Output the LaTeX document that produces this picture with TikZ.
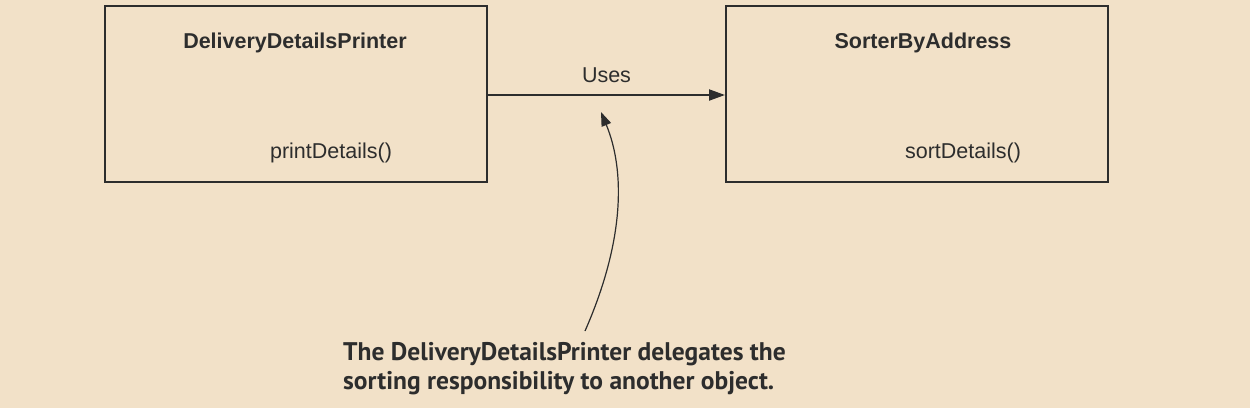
\documentclass[tikz,border=0pt]{standalone}
\usepackage{fontspec}
\setmainfont{Liberation Sans}
\newfontfamily\capfont{PT Sans}
\usetikzlibrary{arrows.meta}
\definecolor{bg}{RGB}{242,225,200}
\definecolor{ln}{RGB}{45,45,45}
\tikzset{
  classbox/.style={draw=ln, line width=2pt, minimum width=382pt, minimum height=176pt, inner sep=0pt},
  title/.style={font=\fontsize{21.5}{24}\selectfont\bfseries, text=ln},
  method/.style={font=\fontsize{21.5}{24}\selectfont, text=ln},
  conn/.style={draw=ln, line width=2pt, -{Triangle[length=16pt,width=11pt]}},
  note/.style={draw=ln, line width=1.2pt, -{Triangle[length=14pt,width=10pt]}},
}
\begin{document}
\begin{tikzpicture}[x=1pt,y=-1pt]
\fill[bg] (0,0) rectangle (1250,408);
\useasboundingbox (0,0) rectangle (1250,408);
\node[classbox] (ddp) at (296,94) {};
\node[classbox] (sba) at (917,94) {};
\node[title] (ddpt) at (295,43) {DeliveryDetailsPrinter};
\node[method] (ddpm) at (331,153) {printDetails()};
\node[title] (sbat) at (923,43) {SorterByAddress};
\node[method] (sbam) at (963,153) {sortDetails()};
\draw[conn] (ddp.east |- 0,95) -- (sba.west |- 0,95) node[midway, above=8pt, method] (uses) {Uses};
\coordinate (tip) at (601,112);
\node[font=\capfont\fontsize{25.5}{29}\selectfont\bfseries, text=ln, align=left, anchor=north west, inner sep=0pt] (cap) at (343,342) {The DeliveryDetailsPrinter delegates the\\sorting responsibility to another object.};
\coordinate (start) at (585,331);
\draw[note] (start) .. controls (625,240) and (625,170) .. (tip);
\end{tikzpicture}
\end{document}
